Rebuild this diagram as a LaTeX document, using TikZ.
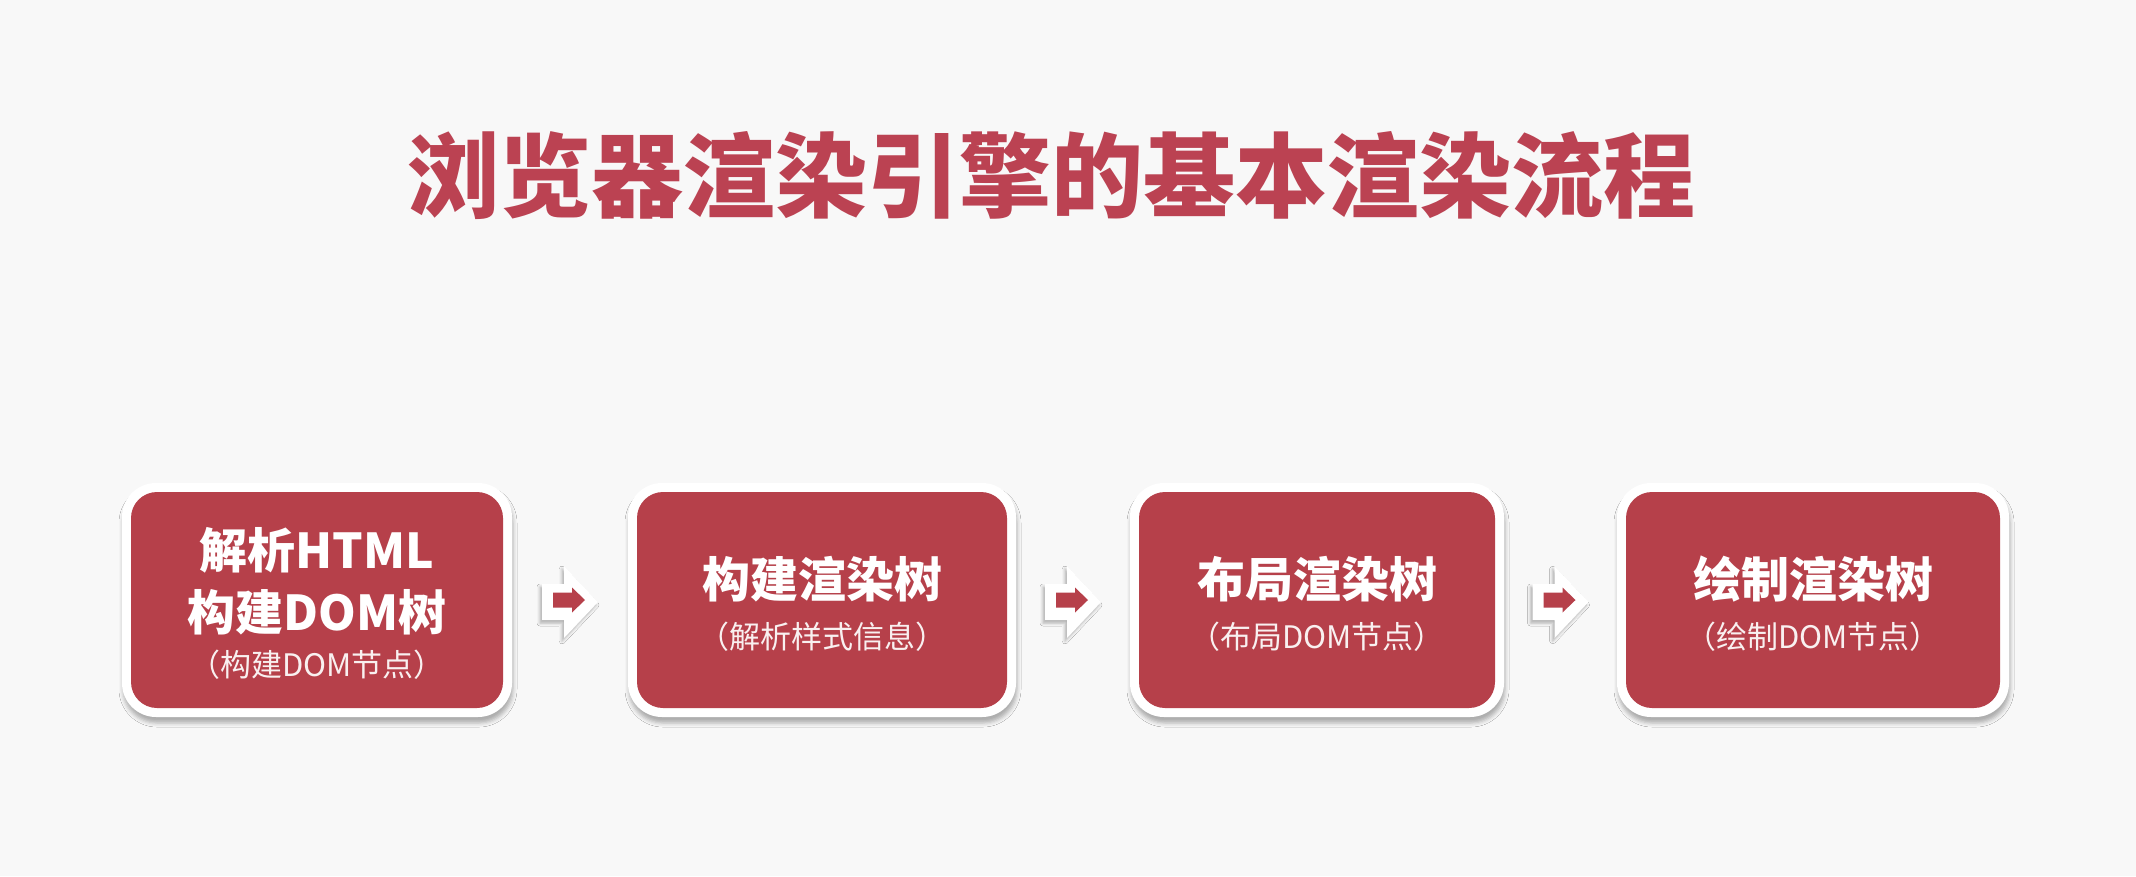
\documentclass[tikz,border=0pt]{standalone}
\usepackage{fontspec}
\setmainfont{Noto Sans CJK SC}
\usetikzlibrary{shadows.blur,calc}
\definecolor{bg}{RGB}{248,248,248}
\definecolor{boxred}{RGB}{182,64,74}
\definecolor{titlered}{RGB}{187,66,82}
\begin{document}
\begin{tikzpicture}[x=1pt,y=-1pt,
  panel/.style={fill=white, rounded corners=34pt, inner sep=0pt, minimum height=234pt,
    blur shadow={shadow xshift=1pt, shadow yshift=-6pt, shadow blur radius=4pt, shadow opacity=30}},
  redbox/.style={fill=boxred, rounded corners=26pt, inner sep=0pt, minimum height=216pt},
  maintext/.style={text=white, font=\bfseries\fontsize{48}{56}\selectfont, inner sep=0pt},
  subtext/.style={text=white!92!boxred, font=\fontsize{31}{36}\selectfont, inner sep=0pt},
  titletext/.style={text=titlered, font=\bfseries\fontsize{92}{100}\selectfont, inner sep=0pt},
  flowarrow/.pic={
    \fill[white, blur shadow={shadow xshift=-2pt, shadow yshift=-3pt, shadow blur radius=3pt, shadow opacity=30}]
      (-28,-18) -- (-6,-18) -- (-6,-36) -- (28,0) -- (-6,36) -- (-6,18) -- (-28,18) -- cycle;
    \fill[boxred] (-17,-9.5) -- (2,-9.5) -- (2,-14.5) -- (15,-2) -- (2,10.5) -- (2,5.5) -- (-17,5.5) -- cycle;
  }
]
\useasboundingbox (0,0) rectangle (2136,876);
\fill[bg] (0,0) rectangle (2136,876);

\node[titletext] (title) at (1051,176) {浏览器渲染引擎的基本渲染流程};

% boxes
\node[panel, minimum width=390pt] (p1) at (317,600) {};
\node[redbox, minimum width=372pt] (b1) at (317,600) {};
\node[panel, minimum width=388pt] (p2) at (822,600) {};
\node[redbox, minimum width=370pt] (b2) at (822,600) {};
\node[panel, minimum width=374pt] (p3) at (1317,600) {};
\node[redbox, minimum width=356pt] (b3) at (1317,600) {};
\node[panel, minimum width=392pt] (p4) at (1813,600) {};
\node[redbox, minimum width=374pt] (b4) at (1813,600) {};

% texts
\node[maintext] (t1a) at (317,550) {解析HTML};
\node[maintext] (t1b) at (317,612) {构建DOM树};
\node[subtext]  (s1)  at (317,665) {（构建DOM节点）};
\node[maintext] (t2) at (822,579) {构建渲染树};
\node[subtext]  (s2) at (822,637) {（解析样式信息）};
\node[maintext] (t3) at (1317,579) {布局渲染树};
\node[subtext]  (s3) at (1317,637) {（布局DOM节点）};
\node[maintext] (t4) at (1813,579) {绘制渲染树};
\node[subtext]  (s4) at (1813,637) {（绘制DOM节点）};

% connectors
\coordinate (a1) at ($(p1.east)!0.5!(p2.west)+(0,2)$);
\coordinate (a2) at ($(p2.east)!0.5!(p3.west)+(0,2)$);
\coordinate (a3) at ($(p3.east)!0.5!(p4.west)+(0,2)$);
\pic at (a1) {flowarrow};
\pic at (a2) {flowarrow};
\pic at (a3) {flowarrow};
\end{tikzpicture}
\end{document}
